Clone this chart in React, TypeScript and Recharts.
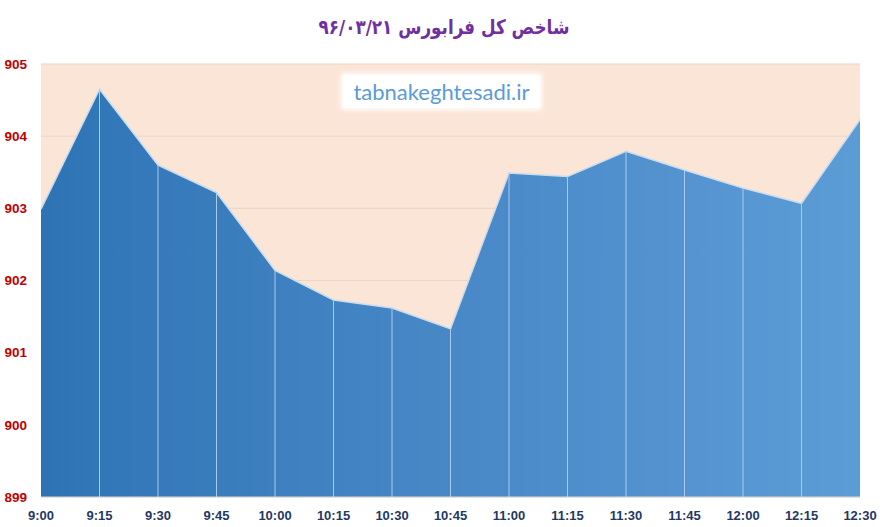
import React from 'react';
import { AreaChart, Area, XAxis, YAxis, CartesianGrid, ReferenceLine } from 'recharts';

const times = ['9:00', '9:15', '9:30', '9:45', '10:00', '10:15', '10:30', '10:45', '11:00', '11:15', '11:30', '11:45', '12:00', '12:15', '12:30'];
const indexValues = [902.99, 904.65, 903.6, 903.22, 902.14, 901.73, 901.62, 901.33, 903.49, 903.44, 903.79, 903.53, 903.28, 903.07, 904.23];
const yTicks = [899, 900, 901, 902, 903, 904, 905];
const titleText = 'شاخص کل فرابورس ۹۶/۰۳/۲۱';
const watermark = 'tabnakeghtesadi.ir';

const data = times.map((t, i) => ({ time: t, value: indexValues[i] }));

const XTick = (props: any) => {
  const { x, y, payload } = props;
  return (
    <text x={x} y={y} dy={15} textAnchor="middle" fill="#1F3864" fontSize={13} fontWeight="bold" fontFamily="'Liberation Sans', Arial, sans-serif">
      {payload.value}
    </text>
  );
};

export default function App() {
  return (
    <div style={{ position: 'absolute', left: 0, top: 0, width: 882, height: 527, background: '#fff' }}>
      <div
        dir="rtl"
        style={{
          position: 'absolute', left: 0, top: 12, width: 888, textAlign: 'center',
          fontFamily: "'DejaVu Sans', sans-serif", fontWeight: 'bold', fontSize: 20, color: '#7030A0', lineHeight: '30px',
          transform: 'scaleX(0.84)', transformOrigin: '444px 0',
        }}
      >
        {titleText}
      </div>
      <AreaChart width={882} height={527} data={data} margin={{ top: 64, right: 22, bottom: 0, left: 0 }}>
        <defs>
          <linearGradient id="areaFill" x1="0" y1="0" x2="1" y2="0">
            <stop offset="0%" stopColor="#2E74B5" />
            <stop offset="55%" stopColor="#4B8AC9" />
            <stop offset="100%" stopColor="#5C9CD6" />
          </linearGradient>
        </defs>
        <CartesianGrid vertical={false} stroke="#EAD5C6" fill="#FBE5D6" />
        <XAxis
          dataKey="time"
          height={30}
          axisLine={{ stroke: '#D9D9D9' }}
          tickLine={false}
          tick={<XTick />}
          interval={0}
        />
        <YAxis
          width={41}
          domain={[899, 905]}
          ticks={yTicks}
          axisLine={false}
          tickLine={false}
          tickMargin={8}
          tick={{ fill: '#C00000', fontSize: 13.5, fontWeight: 'bold', fontFamily: "'Liberation Sans', Arial, sans-serif" }}
        />
        <Area
          type="linear"
          dataKey="value"
          baseValue={899}
          fill="url(#areaFill)"
          fillOpacity={1}
          stroke="#C9DDF0"
          strokeWidth={1.5}
          dot={false}
          activeDot={false}
          isAnimationActive={false}
        />
        {data.slice(1, -1).map((d) => (
          <ReferenceLine
            key={d.time}
            segment={[{ x: d.time, y: 899 }, { x: d.time, y: d.value }]}
            stroke="#A9CBEC"
            strokeWidth={1}
          />
        ))}
      </AreaChart>
      <div
        style={{
          position: 'absolute', left: 343, top: 75, width: 197, height: 33, background: '#fff',
          boxShadow: '0 0 5px 2px #fff', textAlign: 'center', lineHeight: '33px',
          fontFamily: "Lato, 'Open Sans', sans-serif", fontSize: 22, color: '#5B9BD5',
        }}
      >
        {watermark}
      </div>
    </div>
  );
}
